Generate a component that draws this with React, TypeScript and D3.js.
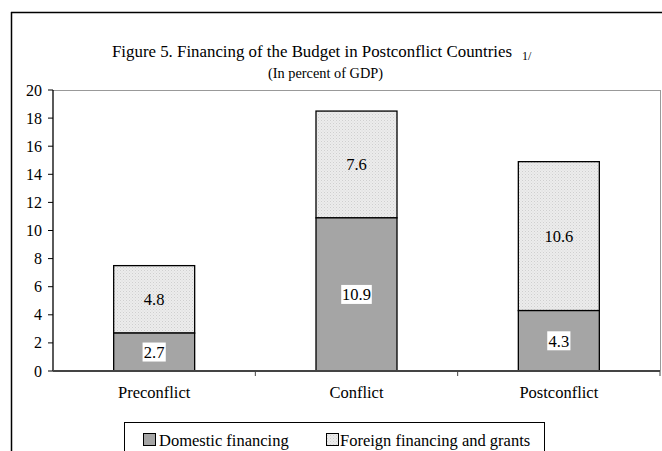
import React from "react";
import * as d3 from "d3";

const categories = ["Preconflict", "Conflict", "Postconflict"];
const domestic = [2.7, 10.9, 4.3];
const foreign = [4.8, 7.6, 10.6];
const yTicks = [0, 2, 4, 6, 8, 10, 12, 14, 16, 18, 20];
const seriesNames = ["Domestic financing", "Foreign financing and grants"];

const W = 662, H = 451;
const plot = { left: 53, right: 660, top: 90, bottom: 371 };
const font = "'Liberation Serif', 'Times New Roman', serif";
const domColor = "#a5a5a5";

export default function App() {
  const x = d3.scaleBand<string>().domain(categories).range([plot.left, plot.right]);
  const y = d3.scaleLinear().domain([0, 20]).range([plot.bottom, plot.top]);
  const band = x.bandwidth();
  const bw = 81;
  return (
    <svg width={W} height={H} style={{ position: "absolute", left: 0, top: 0, background: "#fff" }}>
      <defs>
        <pattern id="dots" width="3" height="3" patternUnits="userSpaceOnUse">
          <rect width="3" height="3" fill="#ececec" />
          <rect width="1" height="1" fill="#cfcfcf" />
          <rect x="1.5" y="1.5" width="1" height="1" fill="#d8d8d8" />
        </pattern>
      </defs>
      <rect x={0} y={0} width={W} height={H} fill="#fff" />
      {/* outer frame */}
      <line x1={11} y1={12.5} x2={W} y2={12.5} stroke="#000" strokeWidth={1.5} />
      <line x1={11.5} y1={12} x2={11.5} y2={H} stroke="#000" strokeWidth={1.5} />
      {/* title */}
      <text x={112} y={57} fontFamily={font} fontSize={17} textLength={400} lengthAdjust="spacingAndGlyphs">Figure 5. Financing of the Budget in Postconflict Countries</text>
      <text x={522} y={60} fontFamily={font} fontSize={12}>1/</text>
      <text x={268} y={78} fontFamily={font} fontSize={14} textLength={115} lengthAdjust="spacingAndGlyphs">(In percent of GDP)</text>
      {/* plot frame */}
      <line x1={plot.left} y1={plot.top + 0.5} x2={plot.right} y2={plot.top + 0.5} stroke="#999" />
      <line x1={plot.right + 0.5} y1={plot.top} x2={plot.right + 0.5} y2={plot.bottom} stroke="#999" />
      {/* bars */}
      {categories.map((c, i) => {
        const cx = (x(c) as number) + band / 2;
        const x0 = cx - bw / 2;
        const d = domestic[i], f = foreign[i];
        const dy = y(d / 2), fy = y(d + f / 2);
        const dl = d.toFixed(1);
        const tw = dl.length * 7.4 + 1;
        return (
          <g key={c}>
            <rect x={x0} y={y(d + f)} width={bw} height={y(d) - y(d + f)} fill="url(#dots)" stroke="#000" strokeWidth={1.3} />
            <rect x={x0} y={y(d)} width={bw} height={y(0) - y(d)} fill={domColor} stroke="#000" strokeWidth={1.3} />
            <text x={cx} y={fy + 5.5} fontFamily={font} fontSize={16.5} textAnchor="middle">{f.toFixed(1)}</text>
            <rect x={cx - tw / 2} y={dy - 9.5} width={tw} height={19} fill="#fff" />
            <text x={cx} y={dy + 6} fontFamily={font} fontSize={16.5} textAnchor="middle">{dl}</text>
            <text x={cx} y={398} fontFamily={font} fontSize={16.5} textAnchor="middle">{c}</text>
          </g>
        );
      })}
      {/* y axis */}
      <line x1={plot.left} y1={plot.top} x2={plot.left} y2={plot.bottom} stroke="#000" strokeWidth={1.3} />
      {yTicks.map((t) => (
        <g key={t}>
          <line x1={plot.left - 5} x2={plot.left} y1={y(t)} y2={y(t)} stroke="#000" />
          <text x={42} y={y(t) + 5.5} fontFamily={font} fontSize={16} textAnchor="end">{t}</text>
        </g>
      ))}
      {/* x axis */}
      <line x1={plot.left} y1={plot.bottom} x2={plot.right} y2={plot.bottom} stroke="#444" strokeWidth={2} />
      {[1, 2, 3].map((k) => (
        <line key={k} x1={plot.left + band * k} x2={plot.left + band * k} y1={plot.bottom} y2={plot.bottom + 5} stroke="#444" />
      ))}
      {/* legend */}
      <rect x={124.5} y={422.5} width={420} height={29} fill="#fff" stroke="#000" />
      <rect x={143.5} y={433.5} width={12} height={12} fill={domColor} stroke="#000" />
      <text x={159} y={446} fontFamily={font} fontSize={16.5}>{seriesNames[0]}</text>
      <rect x={326.5} y={433.5} width={12} height={12} fill="url(#dots)" stroke="#000" />
      <text x={340} y={446} fontFamily={font} fontSize={16.5}>{seriesNames[1]}</text>
    </svg>
  );
}
